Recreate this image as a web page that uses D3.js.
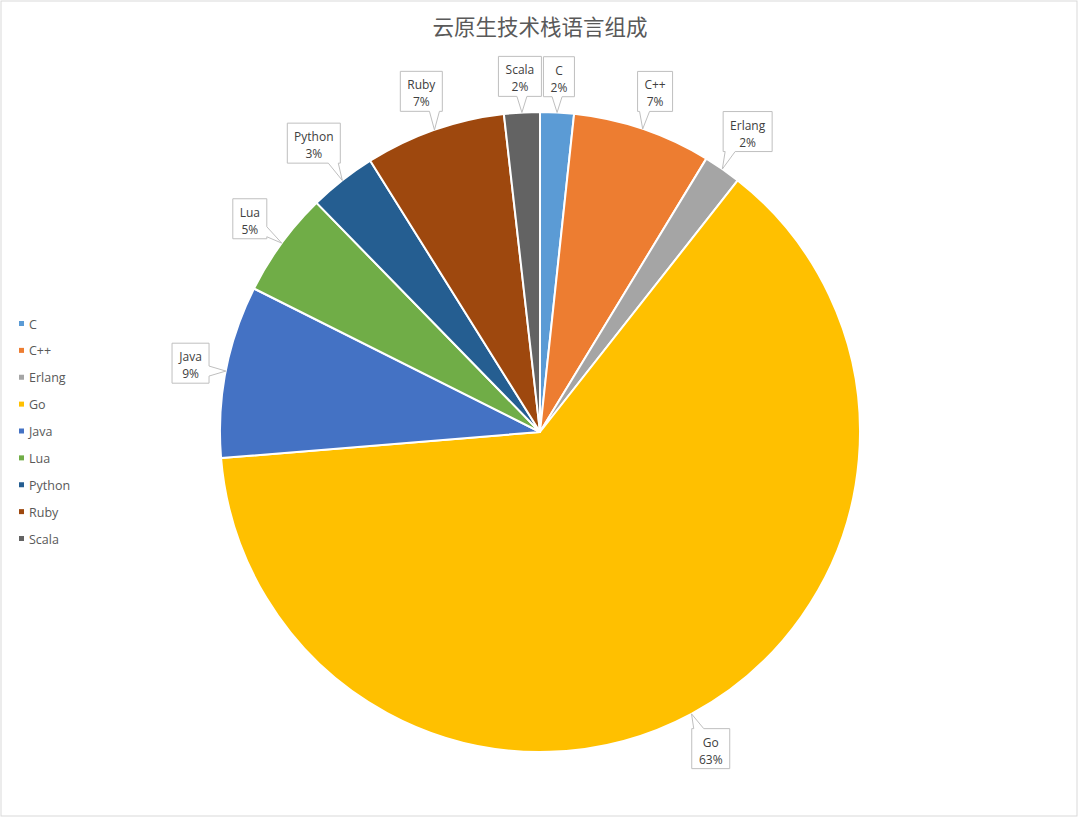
<!DOCTYPE html>
<html>
<head>
<meta charset="utf-8">
<script src="https://cdn.jsdelivr.net/npm/d3@7"></script>
<style>
  html, body { margin: 0; padding: 0; background: #fff; }
  svg { display: block; }
</style>
</head>
<body>
<svg id="chart"></svg>
<script>
// values (share of projects, %)
const languages = ["C", "C++", "Erlang", "Go", "Java", "Lua", "Python", "Ruby", "Scala"]
const shares = [1.7, 7.0, 1.9, 63.1, 8.7, 5.3, 3.4, 7.1, 1.8]
const colors = ["#5B9BD5", "#ED7D31", "#A5A5A5", "#FFC000", "#4472C4", "#70AD47", "#255E91", "#9E480E", "#636363"]
const title = "云原生技术栈语言组成"

const full_width = 1080
const full_height = 818
const cx = 540, cy = 432
const radius = 320
const label_gap = 14

const svg = d3.select("#chart")
  .attr("width", full_width)
  .attr("height", full_height)

// chart area border
svg.append("rect")
  .attr("x", 1).attr("y", 1)
  .attr("width", full_width - 4)
  .attr("height", full_height - 3)
  .attr("fill", "#fff")
  .attr("stroke", "#d9d9d9")

svg.append("text")
  .attr("x", cx)
  .attr("y", 35)
  .attr("text-anchor", "middle")
  .attr("font-family", "'Noto Sans CJK SC', sans-serif")
  .attr("font-size", "21.5px")
  .attr("fill", "#595959")
  .text(title)

const data = languages.map((name, i) => ({ name, value: shares[i], color: colors[i] }))
const total = d3.sum(data, d => d.value)
const pct = d3.format(".0%")

const pie = d3.pie().sort(null).value(d => d.value)
const arcs = pie(data)
const arc = d3.arc().innerRadius(0).outerRadius(radius)

const pie_g = svg.append("g").attr("transform", `translate(${cx}, ${cy})`)

pie_g.selectAll("path")
  .data(arcs)
  .enter()
  .append("path")
  .attr("d", arc)
  .attr("fill", d => d.data.color)
  .attr("stroke", "#fff")
  .attr("stroke-width", 2)
  .attr("stroke-linejoin", "round")

// callout labels
const font = "'Open Sans', 'DejaVu Sans', sans-serif"
const labels = pie_g.append("g")

arcs.forEach(a => {
  const mid = (a.startAngle + a.endAngle) / 2
  const sin = Math.sin(mid), cos = Math.cos(mid)
  const tip = [radius * sin, -radius * cos]
  const g = labels.append("g")

  const box = g.append("path")
  const t = g.append("text")
    .attr("text-anchor", "middle")
    .attr("font-family", font)
    .attr("font-size", "12px")
    .attr("fill", "#404040")
  const l1 = t.append("tspan").text(a.data.name)
  const l2 = t.append("tspan").text(pct(a.data.value / total))

  const tw = Math.max(l1.node().getComputedTextLength(), l2.node().getComputedTextLength())
  const w = Math.round(tw + 14), h = 40
  // push the box out so its nearest edge keeps the same gap from the pie
  const dist = radius + label_gap + (w / 2) * Math.abs(sin) + (h / 2) * Math.abs(cos)
  const c = [dist * sin, -dist * cos]
  l1.attr("x", c[0]).attr("y", c[1] - 3)
  l2.attr("x", c[0]).attr("y", c[1] + 14)

  const x0 = c[0] - w / 2, x1 = c[0] + w / 2
  const y0 = c[1] - h / 2 - 1, y1 = y0 + h
  const base = 10

  // outline starting at top-left, clockwise, with a wedge on the side facing the tip
  const dx = tip[0] - c[0], dy = tip[1] - c[1]
  const pts = []
  if (Math.abs(dy) / h >= Math.abs(dx) / w) {
    const bx = Math.max(x0 + 2, Math.min(x1 - 2 - base, tip[0] - base / 2))
    if (dy > 0) {
      pts.push([x0, y0], [x1, y0], [x1, y1], [bx + base, y1], tip, [bx, y1], [x0, y1])
    } else {
      pts.push([x0, y0], [bx, y0], tip, [bx + base, y0], [x1, y0], [x1, y1], [x0, y1])
    }
  } else {
    const by = Math.max(y0 + 2, Math.min(y1 - 2 - base, tip[1] - base / 2))
    if (dx > 0) {
      pts.push([x0, y0], [x1, y0], [x1, by], tip, [x1, by + base], [x1, y1], [x0, y1])
    } else {
      pts.push([x0, y0], [x1, y0], [x1, y1], [x0, y1], [x0, by + base], tip, [x0, by])
    }
  }
  box.attr("d", d3.line()(pts) + "Z")
    .attr("fill", "#fff")
    .attr("stroke", "#bfbfbf")
    .attr("stroke-width", 1)
})

// legend
const legend_y = d3.scalePoint()
  .domain(languages)
  .range([324, 539])

const legend = svg.append("g")
  .selectAll("g")
  .data(data)
  .enter()
  .append("g")
  .attr("transform", d => `translate(19, ${legend_y(d.name)})`)

legend.append("rect")
  .attr("x", 0).attr("y", -3)
  .attr("width", 5).attr("height", 5)
  .attr("fill", d => d.color)

legend.append("text")
  .attr("x", 10)
  .attr("y", 4.5)
  .attr("font-family", font)
  .attr("font-size", "12.5px")
  .attr("fill", "#595959")
  .text(d => d.name)
</script>
</body>
</html>
